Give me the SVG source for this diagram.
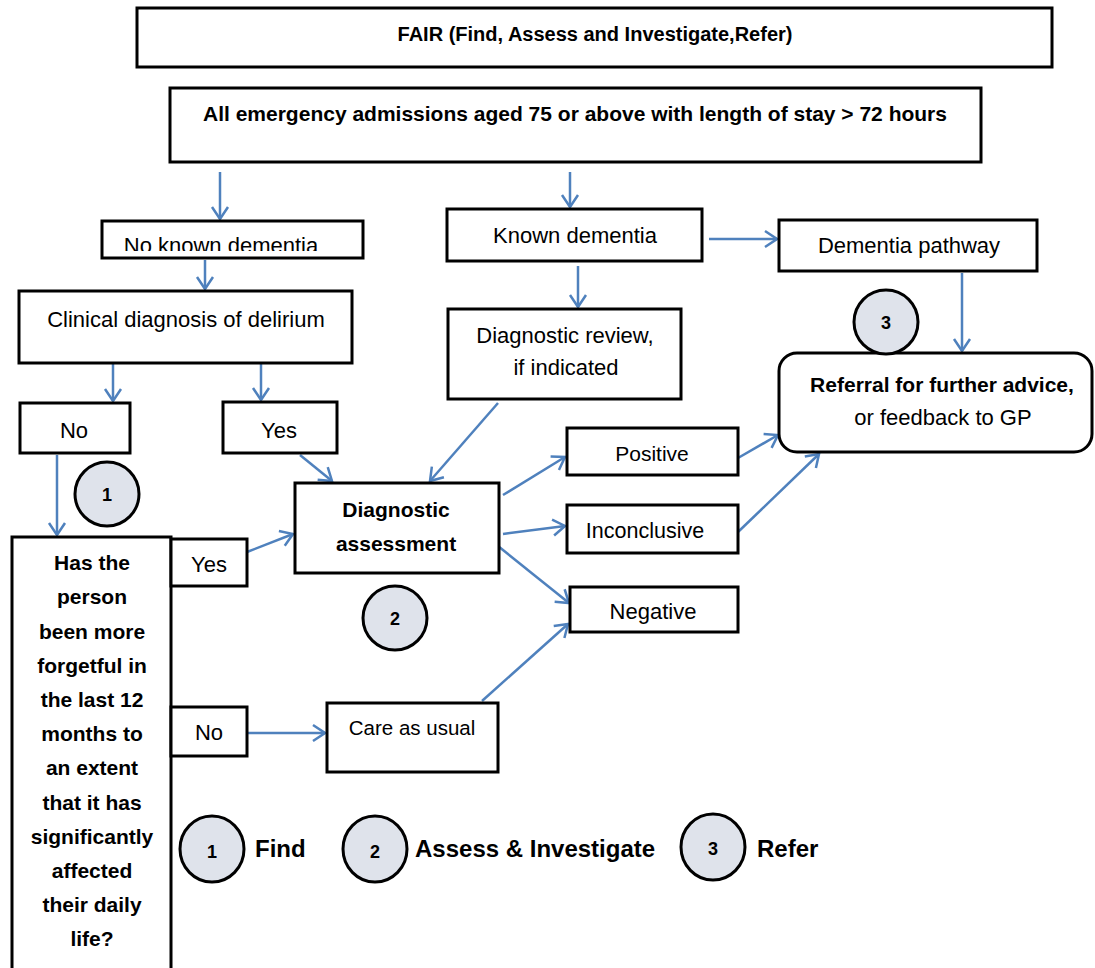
<svg xmlns="http://www.w3.org/2000/svg" width="1095" height="968" viewBox="0 0 1095 968">
<style>
.box{fill:#fff;stroke:#000;stroke-width:3}
.t{font-family:"Liberation Sans",Arial,sans-serif;font-size:22px;fill:#000;text-anchor:middle}
.b{font-family:"Liberation Sans",Arial,sans-serif;font-size:21px;font-weight:bold;fill:#000;text-anchor:middle}
.leg{font-family:"Liberation Sans",Arial,sans-serif;font-size:24px;font-weight:bold;fill:#000}
.num{font-family:"Liberation Sans",Arial,sans-serif;font-size:18px;font-weight:bold;fill:#000;text-anchor:middle}
.circ{fill:#dfe3eb;stroke:#000;stroke-width:3}
.c{fill:none;stroke:#4f81bd;stroke-width:2.5;marker-end:url(#ah)}
</style>
<defs>
<marker id="ah" markerUnits="userSpaceOnUse" viewBox="-14 -10 16 20" refX="0" refY="0" markerWidth="16" markerHeight="20" orient="auto">
<path d="M-12,-8 L0,0 L-12,8" fill="none" stroke="#4f81bd" stroke-width="2.5" stroke-linejoin="miter"/>
</marker>
<clipPath id="clipNKD"><rect x="102" y="221" width="261" height="30"/></clipPath>
</defs>
<rect width="1095" height="968" fill="#fff"/>

<g id="connectors">
<line class="c" x1="220" y1="172" x2="220" y2="219"/>
<line class="c" x1="570" y1="172" x2="570" y2="207"/>
<line class="c" x1="205" y1="260" x2="205" y2="289"/>
<line class="c" x1="578" y1="266" x2="578" y2="307"/>
<line class="c" x1="709" y1="239" x2="777" y2="239"/>
<line class="c" x1="962" y1="273" x2="962" y2="351"/>
<line class="c" x1="113" y1="364" x2="113" y2="401"/>
<line class="c" x1="261" y1="364" x2="261" y2="400"/>
<line class="c" x1="57" y1="455" x2="57" y2="535"/>
<line class="c" x1="300" y1="455" x2="332" y2="481"/>
<line class="c" x1="498" y1="403" x2="430" y2="481"/>
<line class="c" x1="247" y1="552" x2="293" y2="534"/>
<line class="c" x1="503" y1="495" x2="565" y2="457"/>
<line class="c" x1="503" y1="534" x2="565" y2="526"/>
<line class="c" x1="498" y1="546" x2="569" y2="603"/>
<line class="c" x1="482" y1="701" x2="568" y2="624"/>
<line class="c" x1="247" y1="733" x2="325" y2="733"/>
<line class="c" x1="738" y1="458" x2="778" y2="435"/>
<line class="c" x1="738" y1="532" x2="819" y2="454"/>
</g>

<g id="title">
<rect class="box" x="137" y="8" width="915" height="59"/>
<text class="b" x="595" y="41" style="font-size:20px">FAIR (Find, Assess and Investigate,Refer)</text>
</g>
<g id="admissions">
<rect class="box" x="170" y="88" width="811" height="74"/>
<text class="b" x="575" y="121">All emergency admissions aged 75 or above with length of stay &gt; 72 hours</text>
</g>
<g id="no-known-dementia">
<rect class="box" x="102" y="221" width="261" height="37"/>
<text class="t" x="221" y="253" clip-path="url(#clipNKD)">No known dementia</text>
</g>
<g id="known-dementia">
<rect class="box" x="447" y="209" width="255" height="52"/>
<text class="t" x="575" y="243">Known dementia</text>
</g>
<g id="dementia-pathway">
<rect class="box" x="779" y="220" width="258" height="51"/>
<text class="t" x="909" y="253">Dementia pathway</text>
</g>
<g id="clinical-delirium">
<rect class="box" x="19" y="291" width="333" height="72"/>
<text class="t" x="186" y="327">Clinical diagnosis of delirium</text>
</g>
<g id="diagnostic-review">
<rect class="box" x="448" y="309" width="233" height="90"/>
<text class="t" x="565" y="343">Diagnostic review,</text>
<text class="t" x="566" y="375">if indicated</text>
</g>
<g id="referral">
<rect class="box" x="779" y="353" width="313" height="99" rx="18" ry="18"/>
<text class="b" x="942" y="392">Referral for further advice,</text>
<text class="t" x="943" y="425">or feedback to GP</text>
</g>
<g id="delirium-no">
<rect class="box" x="20" y="403" width="110" height="50"/>
<text class="t" x="74" y="438">No</text>
</g>
<g id="delirium-yes">
<rect class="box" x="223" y="402" width="114" height="51"/>
<text class="t" x="279" y="438">Yes</text>
</g>
<g id="positive">
<rect class="box" x="567" y="428" width="171" height="47"/>
<text class="t" x="652" y="461" style="font-size:21px">Positive</text>
</g>
<g id="inconclusive">
<rect class="box" x="567" y="505" width="171" height="48"/>
<text class="t" x="645" y="538" style="font-size:21.5px">Inconclusive</text>
</g>
<g id="negative">
<rect class="box" x="570" y="587" width="168" height="45"/>
<text class="t" x="653" y="619">Negative</text>
</g>
<g id="diagnostic-assessment">
<rect class="box" x="295" y="483" width="204" height="90"/>
<text class="b" x="396" y="517">Diagnostic</text>
<text class="b" x="396" y="551">assessment</text>
</g>
<g id="forgetful-question">
<rect class="box" x="12" y="537" width="159" height="445"/>
<text class="b" x="92" y="570">Has the</text>
<text class="b" x="92" y="604">person</text>
<text class="b" x="92" y="639">been more</text>
<text class="b" x="92" y="673">forgetful in</text>
<text class="b" x="92" y="707">the last 12</text>
<text class="b" x="92" y="741">months to</text>
<text class="b" x="92" y="775">an extent</text>
<text class="b" x="92" y="810">that it has</text>
<text class="b" x="92" y="844">significantly</text>
<text class="b" x="92" y="878">affected</text>
<text class="b" x="92" y="912">their daily</text>
<text class="b" x="92" y="946">life?</text>
</g>
<g id="forgetful-yes">
<rect class="box" x="171" y="539" width="76" height="47"/>
<text class="t" x="209" y="572">Yes</text>
</g>
<g id="forgetful-no">
<rect class="box" x="171" y="707" width="76" height="49"/>
<text class="t" x="209" y="740">No</text>
</g>
<g id="care-as-usual">
<rect class="box" x="327" y="703" width="171" height="69"/>
<text class="t" x="412" y="735" style="font-size:20.5px">Care as usual</text>
</g>

<g id="step1">
<circle class="circ" cx="107" cy="494" r="32"/>
<text class="num" x="107" y="501">1</text>
</g>
<g id="step2">
<circle class="circ" cx="395" cy="618" r="32"/>
<text class="num" x="395" y="625">2</text>
</g>
<g id="step3">
<circle class="circ" cx="886" cy="322" r="32"/>
<text class="num" x="886" y="329">3</text>
</g>

<g id="legend">
<ellipse class="circ" cx="212" cy="849" rx="32" ry="33"/>
<text class="num" x="212" y="858">1</text>
<text class="leg" x="255" y="857">Find</text>
<ellipse class="circ" cx="375" cy="849" rx="32" ry="33"/>
<text class="num" x="375" y="858">2</text>
<text class="leg" x="415" y="857">Assess &amp; Investigate</text>
<ellipse class="circ" cx="713" cy="847" rx="32" ry="33"/>
<text class="num" x="713" y="855">3</text>
<text class="leg" x="757" y="857">Refer</text>
</g>
</svg>
